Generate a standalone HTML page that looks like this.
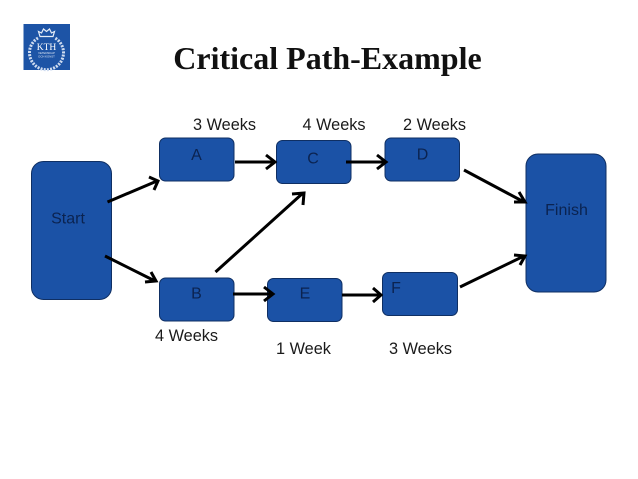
<!DOCTYPE html>
<html><head><meta charset="utf-8"><style>
html,body{margin:0;padding:0;background:#fff;width:638px;height:479px;overflow:hidden}
svg{display:block}
.l{font:16.300px "Liberation Sans",sans-serif;fill:#1a1a1a}
.n{font:16px "Liberation Sans",sans-serif;fill:#0b2350;text-anchor:middle}
rect.b{fill:#1b52a6;stroke:#0f2f63;stroke-width:1}
path.a{fill:none;stroke:#000;stroke-width:3;stroke-linejoin:miter}
</style></head><body>
<svg width="638" height="479" viewBox="0 0 638 479" xmlns="http://www.w3.org/2000/svg">
<rect width="638" height="479" fill="#fff"/>
<rect x="23.500" y="24" width="46.500" height="46" fill="#1d54a6"/>
<path d="M38 38A17 17 0 1 0 55 38" fill="none" stroke="#cfdcf0" stroke-width="3" stroke-dasharray="2 1.200"/>
<path d="M40 36.500l-1.500-5 3 1.500 2-4 3 2.500 3-2.500 2 4 3-1.500-1.500 5z" fill="none" stroke="#e6edf7" stroke-width="1.200"/>
<text x="46.500" y="50" text-anchor="middle" style="font:9.500px 'Liberation Serif',serif;fill:#fff">KTH</text>
<text x="46.500" y="54" text-anchor="middle" style="font:2.800px 'Liberation Sans',sans-serif;fill:#dfe8f5">VETENSKAP</text>
<text x="46.500" y="57.500" text-anchor="middle" style="font:2.800px 'Liberation Sans',sans-serif;fill:#dfe8f5">OCH KONST</text>
<text x="327.500" y="69" text-anchor="middle" style="font:bold 32px 'Liberation Serif',serif;fill:#111">Critical Path-Example</text>
<rect class="b" x="31.500" y="161.500" width="80" height="138" rx="12"/>
<rect class="b" x="526" y="154" width="80" height="138" rx="12"/>
<rect class="b" x="159.500" y="138" width="74.500" height="43" rx="6"/>
<rect class="b" x="159.500" y="278" width="74.500" height="43" rx="6"/>
<rect class="b" x="276.500" y="140.500" width="74.500" height="43" rx="6"/>
<rect class="b" x="385" y="138" width="74.500" height="43" rx="6"/>
<rect class="b" x="267.500" y="278.500" width="74.500" height="43" rx="6"/>
<rect class="b" x="382.500" y="272.500" width="75" height="43" rx="6"/>
<text class="n" x="68" y="223.500">Start</text>
<text class="n" x="566.500" y="215">Finish</text>
<text class="n" x="196.500" y="160">A</text>
<text class="n" x="196.500" y="298.500">B</text>
<text class="n" x="313" y="163.500">C</text>
<text class="n" x="422.500" y="159.500">D</text>
<text class="n" x="305" y="298.500">E</text>
<text class="n" x="396" y="293">F</text>
<text class="l" x="193" y="130">3 Weeks</text>
<text class="l" x="302.500" y="130">4 Weeks</text>
<text class="l" x="403" y="130">2 Weeks</text>
<text class="l" x="155" y="341">4 Weeks</text>
<text class="l" x="276" y="354">1 Week</text>
<text class="l" x="389" y="354">3 Weeks</text>
<g>
<path class="a" d="M107.500 202L157 181M149 177L158 181L154 190"/>
<path class="a" d="M105 256L155 281M145 282L156 281L151 272"/>
<path class="a" d="M215.500 272L303 193M292 194L304 193L303 205"/>
<path class="a" d="M235 162L274 162M266 155L275 162L266 169"/>
<path class="a" d="M233 294L272 294M264 287L273 294L264 301"/>
<path class="a" d="M346 162L385 162M377 155L386 162L377 169"/>
<path class="a" d="M342 295L380 295M373 288L381 295L373 302"/>
<path class="a" d="M464 170L524 202M514 202L525 202L519 192"/>
<path class="a" d="M460 287L524 256M514 255L525 256L520 265"/>
</g>
</svg>
</body></html>
